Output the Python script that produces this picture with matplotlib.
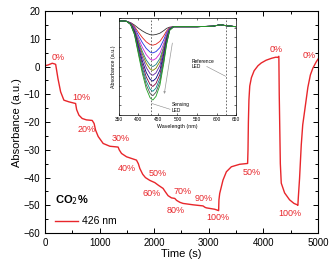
import matplotlib
matplotlib.use("Agg")
import matplotlib.pyplot as plt
from matplotlib.ticker import MultipleLocator

plt.rcParams["font.family"] = ["Liberation Sans", "DejaVu Sans"]

# main trace: absorbance at 426 nm vs time
time_s = [0, 60, 133, 170, 196, 215, 238, 287, 347, 439, 561, 580, 622, 682, 760, 865,
          900, 927, 975, 1066, 1188, 1340, 1360, 1402, 1494, 1676, 1710, 1737, 1790, 1840,
          1920, 2011, 2080, 2163, 2200, 2254, 2316, 2377, 2410, 2470, 2528, 2711, 2850,
          2894, 2930, 2956, 3047, 3108, 3168, 3180, 3186, 3200, 3260, 3322, 3413, 3565,
          3711, 3718, 3725, 3735, 3750, 3780, 3830, 3900, 3960, 4050, 4150, 4230, 4260,
          4283, 4290, 4310, 4327, 4388, 4479, 4560, 4620, 4631, 4640, 4662, 4693, 4720,
          4753, 4814, 4860, 4905, 4967, 5000]
absorb = [0.3, 0.6, 1.2, 1.0, 0.8, -1.5, -4.3, -9.1, -12.1, -12.7, -13.3, -15.5, -17.5,
          -18.7, -19.2, -19.4, -20.5, -22.9, -25.2, -27.7, -28.7, -29.0, -30.0, -31.3, -32.5,
          -33.7, -35.0, -36.7, -38.8, -40.0, -41.0, -41.8, -42.8, -43.9, -45.0, -46.5,
          -47.3, -47.5, -48.2, -48.9, -49.3, -49.8, -50.1, -50.2, -50.7, -50.9, -51.2,
          -51.4, -51.8, -51.9, -48.0, -45.7, -40.9, -37.9, -36.1, -35.2, -34.9, -30.0,
          -20.0, -12.0, -7.0, -4.0, -1.5, 0.3, 1.3, 2.3, 3.0, 3.4, 3.3, 3.7, -10.0, -35.0,
          -42.0, -45.5, -48.0, -49.3, -49.8, -50.0, -47.0, -40.3, -28.3, -21.0, -16.3,
          -7.5, -3.0, -0.6, 1.7, 2.7]

# CO2 step labels
step_labels = ["0%", "10%", "20%", "30%", "40%", "50%", "60%", "70%", "80%", "90%",
               "100%", "50%", "0%", "100%", "0%"]
label_t = [238, 676, 768, 1390, 1508, 2057, 1956, 2514, 2395, 2907, 3163, 3793, 4241,
           4479, 4845]
label_v = [3.4, -11.0, -22.5, -26.0, -36.8, -38.6, -45.8, -45.0, -51.7, -47.6, -54.4,
           -38.2, 6.0, -53.0, 4.0]

# inset: absorption spectra
wavelength = [350, 360, 370, 380, 390, 400, 410, 420, 430, 437, 445, 455, 465, 472, 480,
              490, 550, 590, 610, 625, 650]
spec_base = [96.5, 97, 96.5, 95.5, 94, 93, 92.5, 92, 91.5, 91.5, 91.5, 91.5, 91.5, 91.5,
             91, 91, 91, 91.5, 93, 92, 91]
spec_shape = [0, 0, 0, 0.03, 0.15, 0.4, 0.65, 0.85, 0.97, 1.0, 0.95, 0.8, 0.5, 0.25, 0.05,
              0, 0, 0, 0, 0, 0]
spec_depth = [9, 19.5, 27.5, 35, 41.5, 45.5, 50.5, 56.5, 62, 67, 71.5, 76]
spec_colors = ["#333333", "#e0201c", "#2030e0", "#d020d0", "#208080", "#808000",
               "#6020a0", "#000080", "#800040", "#008b8b", "#505050", "#20a020"]

red = "#e8262b"

fig = plt.figure(figsize=(3.33, 2.64), dpi=100)
ax = fig.add_axes([0.135, 0.117, 0.82, 0.841])

ax.plot(time_s, absorb, color=red, lw=1.0, label="426 nm")
for txt, t, v in zip(step_labels, label_t, label_v):
    ax.text(t, v, txt, color=red, fontsize=6.5, ha="center", va="center")

ax.set_xlim(0, 5000)
ax.set_ylim(-60, 20)
ax.xaxis.set_major_locator(MultipleLocator(1000))
ax.xaxis.set_minor_locator(MultipleLocator(500))
ax.yaxis.set_major_locator(MultipleLocator(10))
ax.yaxis.set_minor_locator(MultipleLocator(5))
ax.tick_params(which="both", direction="in", top=True, right=True, labelsize=7, width=0.7)
ax.tick_params(which="major", length=3.5)
ax.tick_params(which="minor", length=2)
for s in ax.spines.values():
    s.set_linewidth(0.8)
ax.set_xlabel("Time (s)", fontsize=8, labelpad=1)
ax.set_ylabel("Absorbance (a.u.)", fontsize=8, labelpad=1)

# legend: bold title drawn as text, line entry as legend
ax.text(183, -48.1, "CO$_2$%", fontsize=8, fontweight="bold", ha="left", va="center")
ax.legend(loc="lower left", bbox_to_anchor=(0.037, 0.03), frameon=False, fontsize=7.5,
          handlelength=2.2, handletextpad=0.4, borderpad=0, borderaxespad=0)

# inset
ins = fig.add_axes([0.357, 0.564, 0.352, 0.368])
for d, c in zip(spec_depth, spec_colors):
    y = [b - d * s for b, s in zip(spec_base, spec_shape)]
    ins.plot(wavelength, y, color=c, lw=0.6)
ins.axvline(432, color="#555555", lw=0.6, ls=(0, (2, 2)))
ins.axvline(625, color="#555555", lw=0.6, ls=(0, (2, 2)))
ins.set_xlim(350, 650)
ins.set_ylim(0, 100)
ins.set_xticks([350, 400, 450, 500, 550, 600, 650])
ins.yaxis.set_major_locator(MultipleLocator(10))
ins.tick_params(direction="in", top=True, right=True, labelsize=3.5, length=1.5,
                width=0.4, pad=1.5, labelleft=False)
for s in ins.spines.values():
    s.set_linewidth(0.5)
ins.set_xlabel("Wavelength (nm)", fontsize=3.8, labelpad=1)
ins.set_ylabel("Absorbance (a.u.)", fontsize=3.8, labelpad=2)
ins.annotate("", xy=(465, 19), xytext=(488, 77),
             arrowprops=dict(arrowstyle="-|>", color="#999999", lw=0.5, mutation_scale=3))
ins.text(536, 52.5, "Reference\nLED", fontsize=3.5, va="center", ha="left")
ins.plot([575, 623], [50, 40], color="#888888", lw=0.4)
ins.text(485, 8, "Sensing\nLED", fontsize=3.5, va="center", ha="left")
ins.plot([434, 481], [12, 6], color="#888888", lw=0.4)

fig.savefig("out.png", dpi=100)
